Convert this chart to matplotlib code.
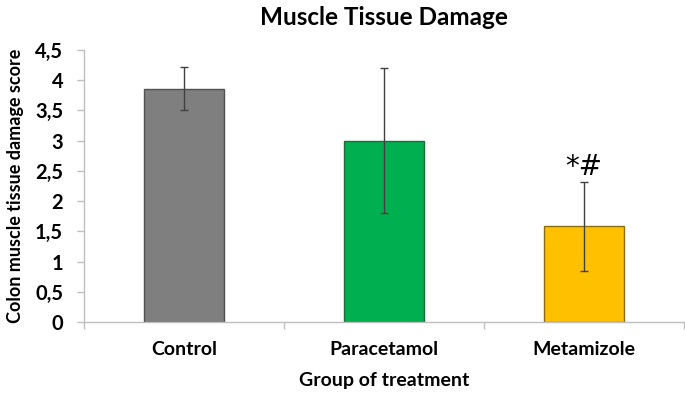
import matplotlib
matplotlib.use("Agg")
import matplotlib.pyplot as plt
from matplotlib.ticker import FixedLocator, NullFormatter

categories = ["Control", "Paracetamol", "Metamizole"]
values = [3.86, 3.00, 1.58]
errors = [0.36, 1.20, 0.73]
colors = ["#7f7f7f", "#00b050", "#ffc000"]
edgecolors = ["#505050", "#1e6b3a", "#8a6d10"]
yticks = [0, 0.5, 1, 1.5, 2, 2.5, 3, 3.5, 4, 4.5]
ytick_labels = ["0", "0,5", "1", "1,5", "2", "2,5", "3", "3,5", "4", "4,5"]
annotation = "*#"

plt.rcParams["font.family"] = ["Lato", "DejaVu Sans"]

fig = plt.figure(figsize=(6.85, 3.93), dpi=100)
ax = fig.add_axes([84 / 685, 1 - 322 / 393, 600 / 685, 272 / 393])

x = list(range(len(categories)))
ax.bar(x, values, width=0.4, color=colors, edgecolor=edgecolors, linewidth=1.0, zorder=2)
ax.errorbar(x, values, yerr=errors, fmt="none", ecolor="#404040", elinewidth=1.0,
            capsize=3, capthick=1.0, zorder=3)

ax.set_xlim(-0.5, 2.5)
ax.set_ylim(0, 4.5)
ax.set_yticks(yticks)
ax.set_yticklabels(ytick_labels, fontsize=14.5, fontweight="bold")
ax.set_xticks(x)
ax.set_xticklabels(categories, fontsize=14, fontweight="bold")
ax.tick_params(axis="x", which="major", length=0, pad=14)
ax.xaxis.set_minor_locator(FixedLocator([-0.5, 0.5, 1.5, 2.5]))
ax.xaxis.set_minor_formatter(NullFormatter())
ax.tick_params(axis="x", which="minor", length=5, color="#bfbfbf", width=1)
ax.tick_params(axis="y", length=5, color="#bfbfbf", width=1, pad=10)

for s in ["top", "right"]:
    ax.spines[s].set_visible(False)
for s in ["left", "bottom"]:
    ax.spines[s].set_color("#bfbfbf")
    ax.spines[s].set_linewidth(1)

ax.set_xlabel("Group of treatment", fontsize=14, fontweight="bold", labelpad=10)
ax.set_ylabel("Colon muscle tissue damage score", fontsize=13, fontweight="bold", labelpad=8)
ax.set_title("Muscle Tissue Damage", fontsize=17.5, fontweight="bold", pad=18)

ax.text(x[2], values[2] + errors[2] + 0.03, annotation, ha="center", va="bottom",
        fontsize=20, family="DejaVu Sans")

fig.savefig("out.png", dpi=100)
